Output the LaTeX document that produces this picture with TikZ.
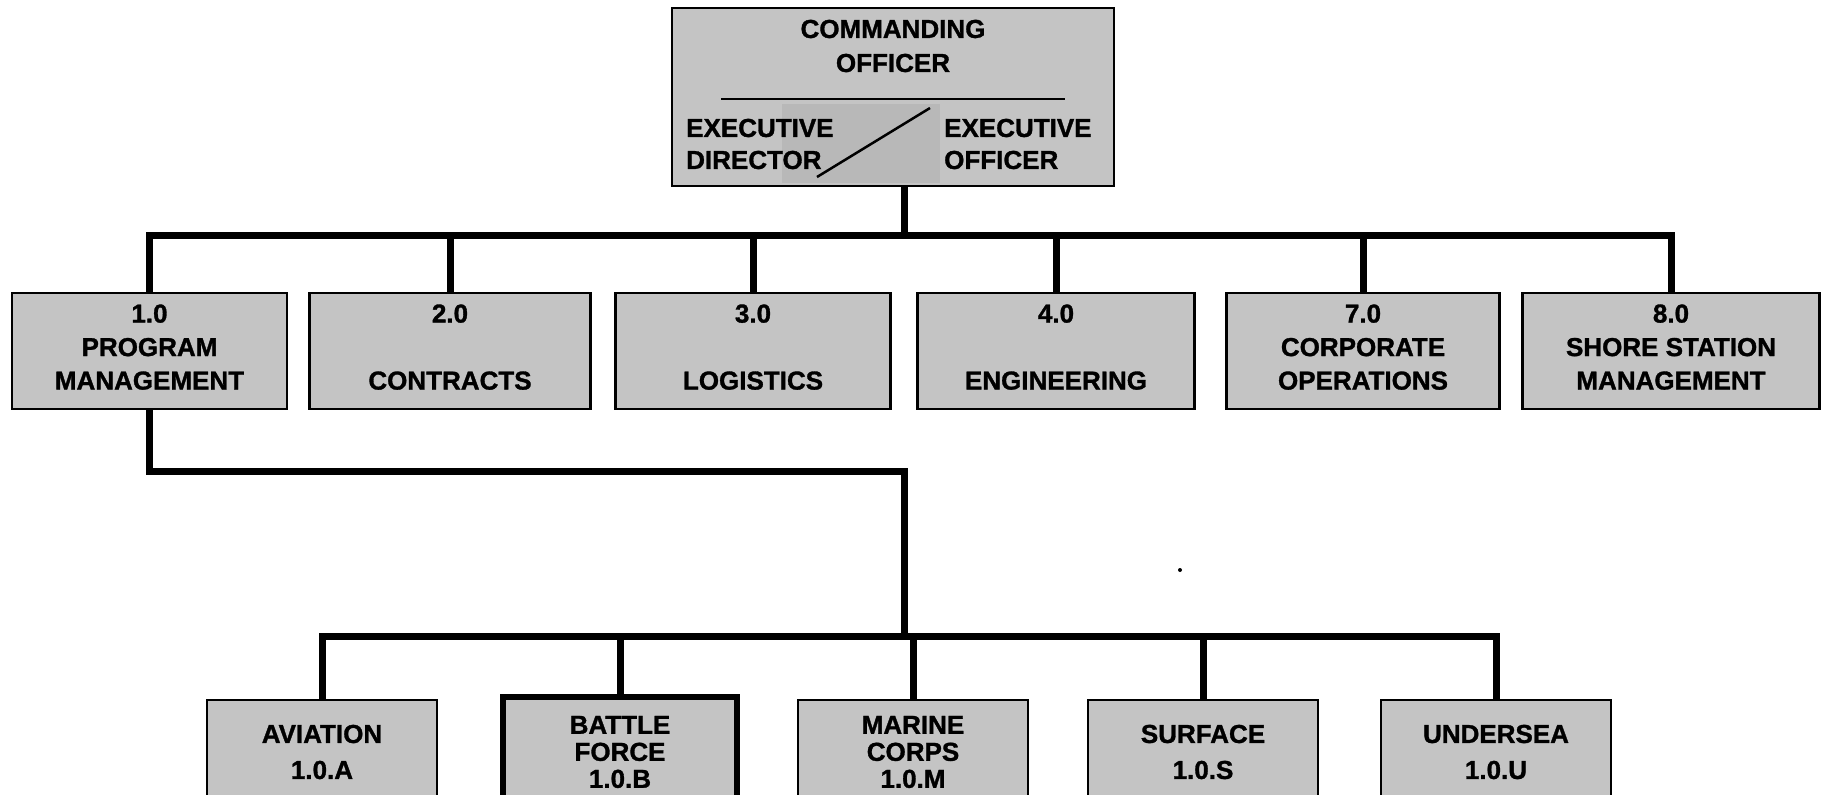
\documentclass[tikz,border=0pt]{standalone}
\usepackage{fontspec}
\setmainfont{Liberation Sans}[BoldFeatures={FakeBold=1.2}]
\definecolor{boxgray}{RGB}{196,196,196}
\definecolor{boxdark}{RGB}{184,184,184}
\newcommand{\lowerpad}{\rule[-8pt]{0pt}{0pt}}
\begin{document}
\begin{tikzpicture}[x=1pt,y=-1pt,
  box/.style={draw=black, line width=2.5pt, fill=boxgray, inner sep=0pt, align=center,
    font=\fontsize{26}{33.5}\selectfont\bfseries},
  lowbox/.style={box, minimum width=230pt, minimum height=104pt,
    font=\fontsize{26}{36}\selectfont\bfseries},
  lowbox3/.style={lowbox, font=\fontsize{26}{27}\selectfont\bfseries},
  txt/.style={inner sep=0pt, font=\fontsize{26}{32}\selectfont\bfseries},
  conn/.style={line width=7pt, line join=miter}]
\useasboundingbox (0,0) rectangle (1823,795);
\clip (0,0) rectangle (1823,795);

% top box
\node[box, minimum width=442pt, minimum height=178pt] (co) at (893,97) {};
\fill[boxdark] (782,104) rectangle (940,183);
\node[txt] (cmd) at (893,29) {COMMANDING};
\node[txt] (off) at (893,63) {OFFICER};
\draw[line width=2pt] (721,99) -- (1065,99);
\node[txt, anchor=west, align=left] (ed) at (686,144) {EXECUTIVE\\DIRECTOR};
\node[txt, anchor=west, align=left] (eo) at (944,144) {EXECUTIVE\\OFFICER};
\draw[line width=2.5pt] (817,177) -- (930,108);

% middle row
\node[box, minimum width=275pt, minimum height=116pt] (pm) at (149.5,351) {1.0\\PROGRAM\\MANAGEMENT\lowerpad};
\node[box, minimum width=281pt, minimum height=116pt] (ct) at (450,351) {2.0\\ \\CONTRACTS\lowerpad};
\node[box, minimum width=275pt, minimum height=116pt] (lg) at (753,351) {3.0\\ \\LOGISTICS\lowerpad};
\node[box, minimum width=277pt, minimum height=116pt] (en) at (1056,351) {4.0\\ \\ENGINEERING\lowerpad};
\node[box, minimum width=273pt, minimum height=116pt] (cp) at (1363,351) {7.0\\CORPORATE\\OPERATIONS\lowerpad};
\node[box, minimum width=297pt, minimum height=116pt] (ss) at (1671,351) {8.0\\SHORE STATION\\MANAGEMENT\lowerpad};

% bottom row
\node[lowbox] (av) at (322,752) {AVIATION\\1.0.A};
\node[lowbox3, line width=6pt, minimum width=234pt, minimum height=110pt] (bf) at (620,752) {BATTLE\\FORCE\\1.0.B};
\node[lowbox3] (mc) at (913,752) {MARINE\\CORPS\\1.0.M};
\node[lowbox] (sf) at (1203,752) {SURFACE\\1.0.S};
\node[lowbox] (un) at (1496,752) {UNDERSEA\\1.0.U};

% connectors
\coordinate (cot) at (904,186);
\coordinate (b1) at (904,235);
\coordinate (b2) at (904,471);
\coordinate (b3) at (904,636);
\draw[conn] (cot) -- (b1);
\draw[conn] (pm.north) -- (pm.north |- b1) -- (ss.north |- b1) -- (ss.north);
\draw[conn] (ct.north) -- (ct.north |- b1);
\draw[conn] (lg.north) -- (lg.north |- b1);
\draw[conn] (en.north) -- (en.north |- b1);
\draw[conn] (cp.north) -- (cp.north |- b1);
\draw[conn] (pm.south) -- (pm.south |- b2) -- (b2) -- (b3);
\draw[conn] (av.north) -- (av.north |- b3) -- (un.north |- b3) -- (un.north);
\draw[conn] (bf.north) -- (bf.north |- b3);
\draw[conn] (mc.north) -- (mc.north |- b3);
\draw[conn] (sf.north) -- (sf.north |- b3);

\fill (1180,570) circle (2pt);
\end{tikzpicture}
\end{document}
